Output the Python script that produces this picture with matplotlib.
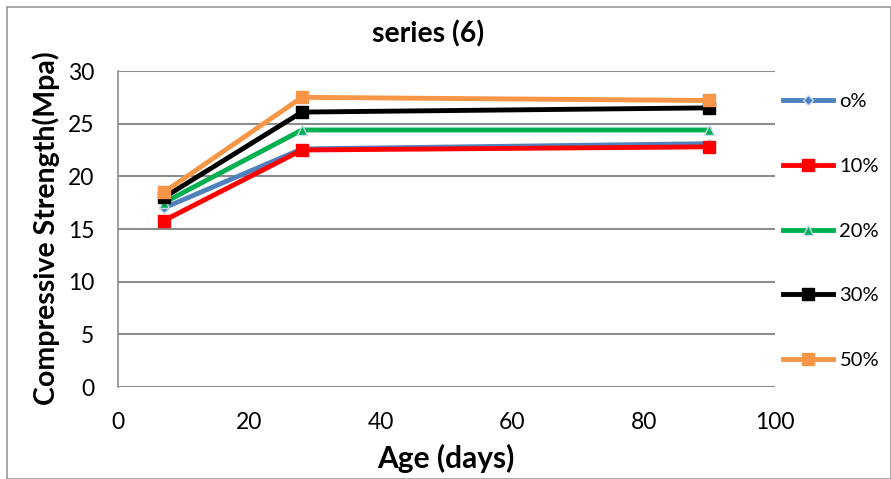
import matplotlib
matplotlib.use("Agg")
import matplotlib.pyplot as plt
from matplotlib.patches import Rectangle

plt.rcParams['font.family'] = ['Lato', 'DejaVu Sans']

age_days = [7, 28, 90]
labels = ['o%', '10%', '20%', '30%', '50%']
strength_0 = [17.0, 22.6, 23.1]
strength_10 = [15.8, 22.5, 22.8]
strength_20 = [17.5, 24.4, 24.4]
strength_30 = [18.0, 26.1, 26.5]
strength_50 = [18.5, 27.5, 27.2]

series = [strength_0, strength_10, strength_20, strength_30, strength_50]
colors = ['#4f81bd', '#ff0000', '#00b050', '#000000', '#f79646']
markers = ['D', 's', '^', 's', 's']
msizes = [5, 9, 7, 9, 9]

W, H = 891, 479
fig = plt.figure(figsize=(W / 100, H / 100), dpi=100)
ax = fig.add_axes([118 / W, 1 - 387 / H, (775 - 118) / W, (387 - 71) / H])

# outer chart frame
fig.patches.append(Rectangle((0.008, 0.0), 0.992, 0.985, transform=fig.transFigure,
                             fill=False, edgecolor='#9a9a9a', linewidth=1.2))

handles = []
for vals, c, m, ms, lab in zip(series, colors, markers, msizes, labels):
    mec = '#c6d9f1' if m in ('^', 'D') else c
    h, = ax.plot(age_days, vals, color=c, linewidth=3.5, marker=m, markersize=ms,
                 markerfacecolor=c, markeredgecolor=mec, markeredgewidth=1.0, label=lab,
                 zorder=3)
    handles.append(h)

ax.set_xlim(0, 100)
ax.set_ylim(0, 30)
ax.set_xticks(range(0, 101, 20))
ax.set_yticks(range(0, 31, 5))
ax.grid(axis='y', color='#8c8c8c', linewidth=1.5)
ax.set_axisbelow(True)
for s in ['top', 'right', 'bottom']:
    ax.spines[s].set_visible(False)
ax.spines['left'].set_color('#8c8c8c')
ax.spines['left'].set_linewidth(1.2)
ax.tick_params(axis='both', length=0, labelsize=16.5)
ax.tick_params(axis='x', pad=18)
ax.tick_params(axis='y', pad=17)

fig.text(428 / W, 1 - 34 / H, 'series (6)', fontsize=20.5, fontweight='bold',
         ha='center', va='center')
fig.text(446 / W, 1 - 458 / H, 'Age (days)', fontsize=21.5, fontweight='bold',
         ha='center', va='center')
fig.text(46 / W, 1 - 228 / H, 'Compressive Strength(Mpa)', fontsize=20.5,
         fontweight='bold', rotation=90, ha='center', va='center')

ax.legend(handles=handles, loc='upper left', bbox_to_anchor=(1.0, 0.955),
          frameon=False, fontsize=14.5, handlelength=2.5, labelspacing=2.36,
          handletextpad=0.3, borderaxespad=0)

fig.savefig('out.png', dpi=100)
